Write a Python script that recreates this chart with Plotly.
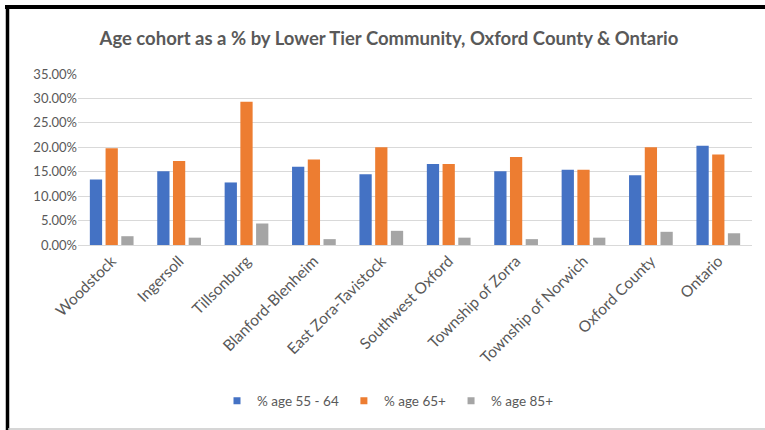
import plotly.graph_objects as go

categories = ["Woodstock", "Ingersoll", "Tillsonburg", "Blanford-Blenheim", "East Zora-Tavistock",
              "Southwest Oxford", "Township of Zorra", "Township of Norwich", "Oxford County", "Ontario"]
age_55_64 = [13.4, 15.1, 12.8, 16.0, 14.5, 16.6, 15.1, 15.4, 14.3, 20.3]
age_65_plus = [19.8, 17.2, 29.3, 17.5, 20.0, 16.6, 18.0, 15.4, 20.0, 18.5]
age_85_plus = [1.8, 1.5, 4.4, 1.2, 2.9, 1.5, 1.2, 1.5, 2.7, 2.4]
series_names = ["% age 55 - 64", "% age 65+", "% age 85+"]
y_ticks = [0, 5, 10, 15, 20, 25, 30, 35]
y_tick_text = ["0.00%", "5.00%", "10.00%", "15.00%", "20.00%", "25.00%", "30.00%", "35.00%"]

colors = ["#4472C4", "#ED7D31", "#A5A5A5"]
W, H = 765, 430
L, R, T, B = 78, 13, 74, 185
pw, ph = W - L - R, H - T - B

def px(x):
    return (x - L) / pw

def py(y):
    return (H - B - y) / ph

fig = go.Figure()
for name, vals, c in zip(series_names, [age_55_64, age_65_plus, age_85_plus], colors):
    fig.add_trace(go.Bar(x=categories, y=vals, name=name, showlegend=False,
                         marker=dict(color=c, line=dict(width=0))))
for name, c in zip(series_names, colors):
    fig.add_trace(go.Scatter(x=[None], y=[None], mode="markers", name=name,
                             marker=dict(symbol="square", size=7, color=c)))

font = "Lato, 'Open Sans', sans-serif"
fig.update_layout(
    width=W, height=H,
    margin=dict(l=L, r=R, t=T, b=B, autoexpand=False),
    paper_bgcolor="white", plot_bgcolor="white",
    barmode="group", bargap=0.3, bargroupgap=0.22,
    title=dict(text="<b>Age cohort as a % by Lower Tier Community, Oxford County &amp; Ontario</b>",
               x=389 / W, xanchor="center", y=1 - 39 / H, yanchor="middle",
               font=dict(family=font, size=18.5, color="#595959")),
    font=dict(family=font, color="#595959", size=12),
    showlegend=True,
    legend=dict(orientation="h", x=388 / W, xanchor="center", y=py(401), yanchor="middle",
                xref="container", font=dict(size=13.5, color="#595959"), itemwidth=30,
                traceorder="normal", tracegroupgap=0),
    xaxis=dict(tickangle=-45, showgrid=False, showline=True, linecolor="#D9D9D9", linewidth=1,
               ticks="", tickfont=dict(size=15.5, color="#595959")),
    yaxis=dict(range=[0, 35], tickvals=y_ticks, ticktext=y_tick_text,
               showgrid=True, gridcolor="#D9D9D9", gridwidth=1.2, zeroline=False, showline=False,
               tickfont=dict(size=13, color="#595959")),
    shapes=[
        dict(type="line", xref="paper", yref="paper", x0=px(5), x1=px(766), y0=py(7), y1=py(7),
             line=dict(color="black", width=4)),
        dict(type="line", xref="paper", yref="paper", x0=px(7.5), x1=px(7.5), y0=py(5), y1=py(431),
             line=dict(color="black", width=3.5)),
        dict(type="line", xref="paper", yref="paper", x0=px(8), x1=px(766), y0=py(429), y1=py(429),
             line=dict(color="#C8C8C8", width=1.5)),
    ],
)

fig.write_html("out.html", config={"displayModeBar": False},
               post_script="document.body.style.margin='0';document.body.style.overflow='hidden';")
